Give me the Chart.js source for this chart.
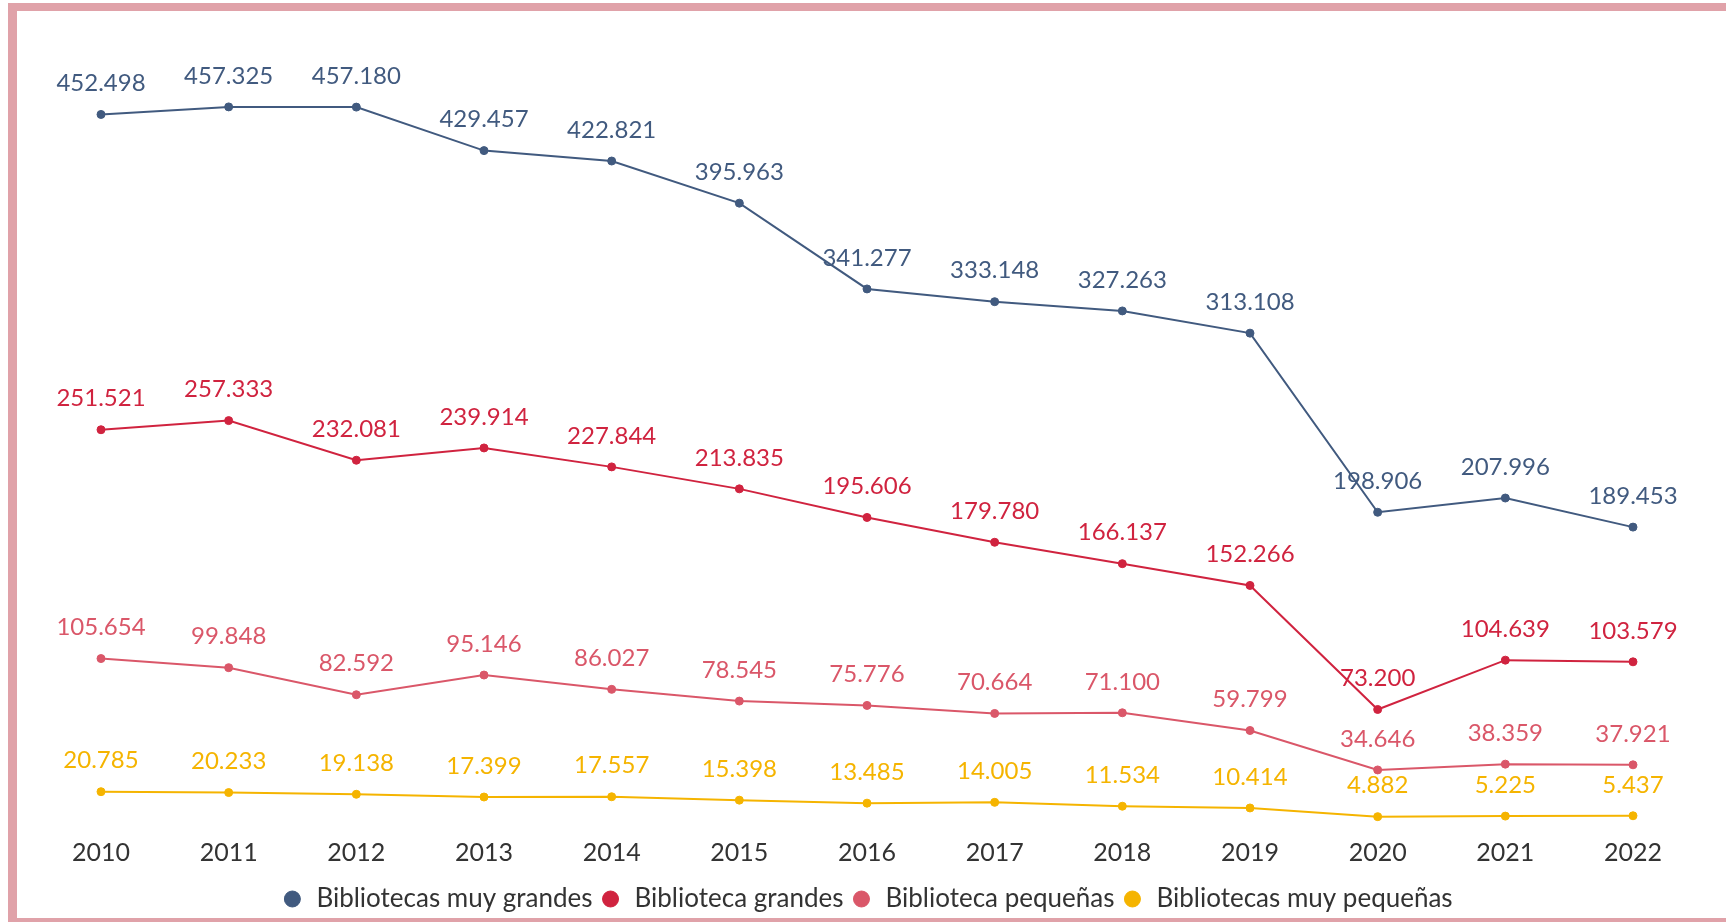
<!DOCTYPE html>
<html lang="es">
<head>
<meta charset="utf-8">
<title>Usuarios de bibliotecas 2010–2022</title>
<script src="https://cdn.jsdelivr.net/npm/chart.js@4/dist/chart.umd.min.js"></script>
<style>
  html, body { margin: 0; padding: 0; background: #ffffff; }
  body { width: 1726px; height: 922px; position: relative; overflow: hidden; }
  .frame {
    position: absolute; left: 8px; top: 3px; right: 0; bottom: 0;
    border-left: 9px solid #e0a2a9;
    border-top: 8px solid #e0a2a9;
    border-bottom: 4px solid #e0a2a9;
  }
  .wrap { position: absolute; left: 0; top: 0; width: 1726px; height: 922px; }
</style>
</head>
<body>
<div class="frame"></div>
<div class="wrap"><canvas id="chart"></canvas></div>
<script>
// Years on the horizontal axis
const years = ['2010', '2011', '2012', '2013', '2014', '2015', '2016', '2017', '2018', '2019', '2020', '2021', '2022'];

// One series per library size
const muyGrandes = [452498, 457325, 457180, 429457, 422821, 395963, 341277, 333148, 327263, 313108, 198906, 207996, 189453];
const grandes = [251521, 257333, 232081, 239914, 227844, 213835, 195606, 179780, 166137, 152266, 73200, 104639, 103579];
const pequenas = [105654, 99848, 82592, 95146, 86027, 78545, 75776, 70664, 71100, 59799, 34646, 38359, 37921];
const muyPequenas = [20785, 20233, 19138, 17399, 17557, 15398, 13485, 14005, 11534, 10414, 4882, 5225, 5437];

const seriesNames = ['Bibliotecas muy grandes', 'Biblioteca grandes', 'Biblioteca pequeñas', 'Bibliotecas muy pequeñas'];
const seriesColors = ['#415a7f', '#d0233f', '#da5769', '#f5b400'];

const FONT = 'Lato, "Open Sans", sans-serif';

// Spanish thousands separator: 452498 -> "452.498"
function fmt(v) {
  return String(v).replace(/\B(?=(\d{3})+(?!\d))/g, '.');
}

// Draws each point's value above the point, in the series colour
const valueLabels = {
  id: 'valueLabels',
  afterDatasetsDraw(chart) {
    const ctx = chart.ctx;
    ctx.save();
    ctx.font = '24px ' + FONT;
    ctx.textAlign = 'center';
    ctx.textBaseline = 'middle';
    chart.data.datasets.forEach((ds, i) => {
      const meta = chart.getDatasetMeta(i);
      ctx.fillStyle = ds.borderColor;
      meta.data.forEach((pt, j) => {
        ctx.fillText(fmt(ds.data[j]), pt.x, pt.y - 31);
      });
    });
    ctx.restore();
  }
};

const allSeries = [muyGrandes, grandes, pequenas, muyPequenas];

new Chart(document.getElementById('chart'), {
  type: 'line',
  data: {
    labels: years,
    datasets: allSeries.map((vals, i) => ({
      label: seriesNames[i],
      data: vals,
      borderColor: seriesColors[i],
      backgroundColor: seriesColors[i],
      pointBackgroundColor: seriesColors[i],
      pointBorderColor: seriesColors[i],
      borderWidth: 2,
      pointRadius: 4,
      pointBorderWidth: 1,
      tension: 0,
      fill: false
    }))
  },
  options: {
    responsive: true,
    maintainAspectRatio: false,
    animation: false,
    events: [],
    layout: { padding: { left: 101, right: 93, top: 41, bottom: 0 } },
    scales: {
      x: {
        offset: false,
        grid: { display: false, drawTicks: false },
        border: { display: false },
        ticks: { color: '#333333', font: { family: FONT, size: 25 }, padding: 11, maxRotation: 0 }
      },
      y: {
        display: false,
        min: -1720,
        max: 499330
      }
    },
    plugins: {
      legend: {
        position: 'bottom',
        labels: {
          usePointStyle: true,
          pointStyle: 'circle',
          boxWidth: 22,
          boxHeight: 11.3,
          padding: 7,
          color: '#333333',
          font: { family: FONT, size: 26 }
        }
      },
      tooltip: { enabled: false }
    }
  },
  plugins: [valueLabels]
});
</script>
</body>
</html>
